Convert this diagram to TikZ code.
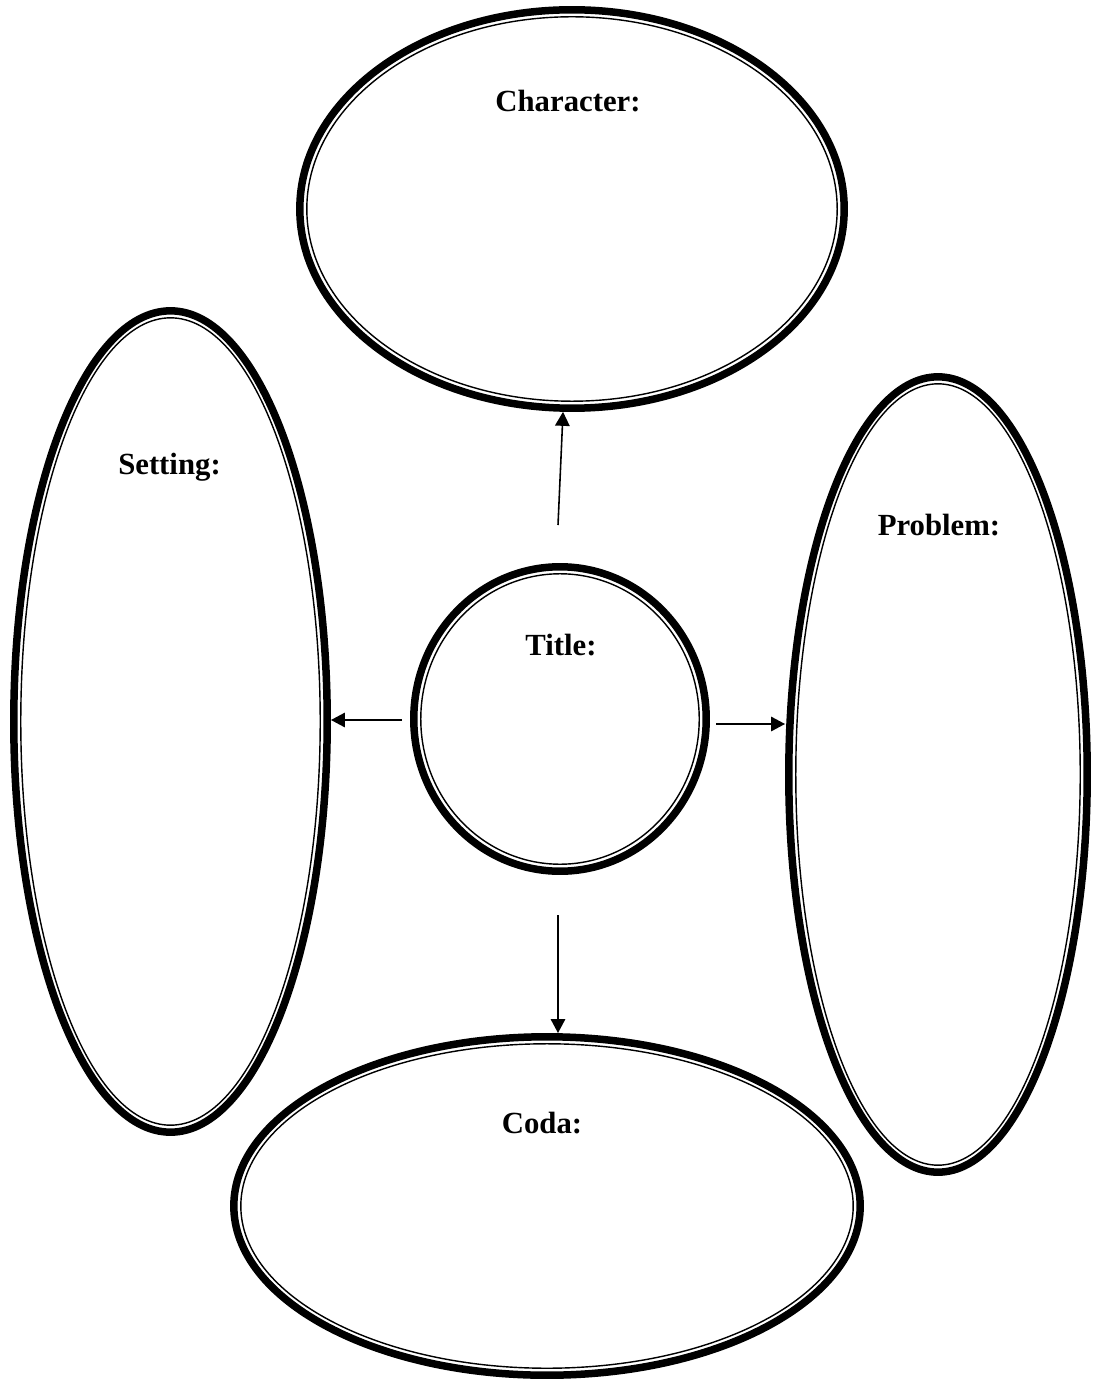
\documentclass[tikz,border=0pt]{standalone}
\usepackage{fontspec}
\setmainfont{Liberation Serif}
\usetikzlibrary{arrows.meta,shapes.geometric,positioning}

\begin{document}
\begin{tikzpicture}[x=0.02cm,y=-0.02cm]
    \tikzset{
      bubble/.style 2 args={ellipse, draw, line width=.15cm, inner sep=0pt,
        minimum width=#1, minimum height=#2},
      rim/.style 2 args={ellipse, draw, line width=.8pt, inner sep=0pt,
        minimum width=#1, minimum height=#2},
      tag/.style={font=\fontsize{17.5}{21}\selectfont\bfseries, anchor=base, inner sep=0pt},
      link/.style={-{Triangle[length=2.8mm,width=2.9mm]}, line width=.9pt}
    }
    \useasboundingbox (0,0) rectangle (1093,1381);
    % thick outer ring, thin inner ring
    \node[bubble={10.89cm}{7.97cm}] (char) at (572,209) {};
    \node[rim={10.61cm}{7.69cm}] (charrim) at (char.center) {};
    \node[bubble={6.27cm}{16.43cm}] (setting) at (170.5,721.5) {};
    \node[rim={5.99cm}{16.15cm}] (settingrim) at (setting.center) {};
    \node[bubble={5.97cm}{15.91cm}] (problem) at (938,774.5) {};
    \node[rim={5.69cm}{15.63cm}] (problemrim) at (problem.center) {};
    \node[bubble={5.85cm}{6.09cm}] (title) at (560,719) {};
    \node[rim={5.57cm}{5.81cm}] (titlerim) at (title.center) {};
    \node[bubble={12.53cm}{6.77cm}] (coda) at (547,1206) {};
    \node[rim={12.25cm}{6.49cm}] (codarim) at (coda.center) {};

    \node[tag] (chartag) at (568,112) {Character:};
    \node[tag] (settingtag) at (169.5,475) {Setting:};
    \node[tag] (problemtag) at (939,535) {Problem:};
    \node[tag] (titletag) at (561,655) {Title:};
    \node[tag] (codatag) at (542,1133) {Coda:};

    % arrows start a little off the title circle
    \coordinate (ufoot) at (558,525);
    \coordinate (lfoot) at (402,720);
    \coordinate (rfoot) at (716,724);
    \coordinate (dfoot) at (558,915);
    \draw[link] (ufoot) -- (char);
    \draw[link] (lfoot) -- (lfoot -| setting.east);
    \draw[link] (rfoot) -- (rfoot -| problem.west);
    \draw[link] (dfoot) -- (dfoot |- coda.north);
\end{tikzpicture}
\end{document}
